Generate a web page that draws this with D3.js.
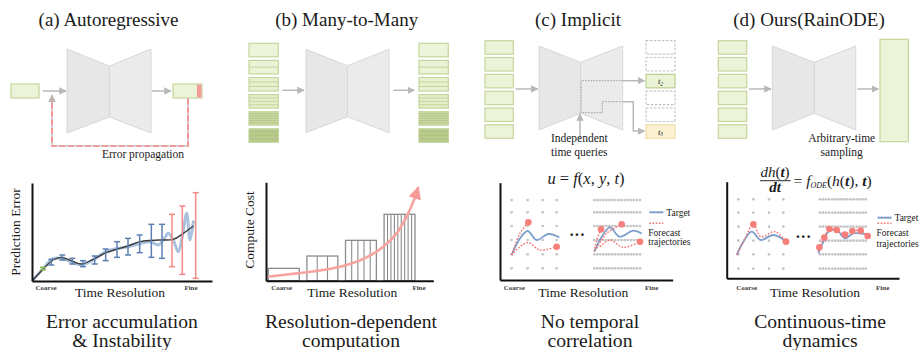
<!DOCTYPE html>
<html>
<head>
<meta charset="utf-8">
<script src="https://cdn.jsdelivr.net/npm/d3@7"></script>
<style>
  body { margin: 0; background: #fff; }
  svg { display: block; }
  text { font-family: "Liberation Serif", "DejaVu Serif", serif; fill: #1a1a1a; }
</style>
</head>
<body>
<svg id="fig" width="921" height="350"></svg>
<script>
// ---------- data ----------
const panelTitles = ['(a)  Autoregressive', '(b)  Many-to-Many', '(c)  Implicit', '(d)  Ours(RainODE)'];
const captions = [
  ['Error accumulation', '& Instability'],
  ['Resolution-dependent', 'computation'],
  ['No temporal', 'correlation'],
  ['Continuous-time', 'dynamics']
];

// (a) prediction error along the rollout
const errX = [33, 58, 91, 121, 153, 188, 221, 255, 288, 323, 358, 390, 420, 451, 491];
const errLo = [33, 48, 63, 51, 43, 51, 61, 71, 78, 85, 71, 68, 43, 20, 8];
const errHi = [41, 65, 78, 68, 61, 75, 96, 118, 128, 138, 170, 170, 200, 225, 265];
const errKind = ['init', 'ok', 'ok', 'ok', 'ok', 'ok', 'ok', 'ok', 'ok', 'ok', 'ok', 'ok', 'bad', 'bad', 'bad'];
const meanX = [3, 33, 63, 88, 118, 148, 183, 223, 253, 288, 324, 384, 424, 454, 484];
const meanY = [3, 35, 63, 71, 61, 51, 65, 85, 95, 105, 118, 123, 125, 143, 165];
const rolloutX = [3, 33, 63, 88, 118, 148, 183, 223, 253, 288, 324, 355, 379, 395, 409, 425, 439, 452, 464, 474, 484];
const rolloutY = [3, 37, 67, 68, 57, 48, 63, 89, 97, 103, 112, 118, 108, 125, 143, 120, 88, 140, 203, 123, 178];

// (b) compute cost per resolution level
const costLevels = ['L1', 'L2', 'L3', 'L4'];
const costValue = [37, 74, 121, 199];
const costSteps = [1, 3, 5, 9];
const costCurveX = [5, 92, 172, 242, 302, 352, 392, 422, 442, 457];
const costCurveY = [12, 22, 32, 47, 70, 102, 142, 192, 237, 280];
const stackSplits = [1, 2, 3, 4, 6, 10];

// (c) implicit queries
const coarseColsC = [35, 83, 128, 170];
const fineColsC = [283, 292, 301, 310, 319, 328, 337, 346, 356, 365, 374, 383, 392, 401, 410, 420];
const rowsC = [240, 203, 162, 120, 77, 35];
const targetC = [
  [[35, 75], [60, 125], [83, 147], [110, 120], [145, 138], [178, 128]],
  [[283, 85], [305, 130], [330, 158], [358, 130], [400, 148], [425, 140]]
];
const forecastC = [
  [[35, 75], [60, 140], [85, 173]],
  [[35, 75], [60, 100], [85, 112], [120, 90], [170, 100]],
  [[283, 85], [290, 120], [303, 152]],
  [[290, 95], [320, 140], [365, 167]],
  [[300, 100], [330, 120], [370, 98], [420, 115]]
];

// (d) continuous-time ODE
const coarseColsD = [35, 80, 127, 170];
const fineColsD = [280, 289, 298, 307, 317, 326, 335, 344, 353, 362, 371, 380, 390, 399, 408, 417];
const rowsD = [237, 197, 155, 113, 72, 29];
const targetD = [
  [[30, 70], [50, 110], [75, 140], [102, 115], [140, 130], [180, 110]],
  [[275, 75], [290, 110], [305, 140], [330, 145], [355, 120], [380, 135], [415, 133]]
];
const forecastD = [
  [[30, 70], [55, 120], [80, 162], [102, 125], [145, 140], [178, 110]],
  [[275, 80], [278, 93], [293, 122], [308, 148], [330, 145], [355, 131], [377, 142], [402, 143], [423, 127]]
];
const forecastDotsD = [[80, 162], [178, 110], [278, 93], [293, 122], [308, 148], [330, 145], [355, 131], [377, 142], [402, 143], [423, 127]];

// ---------- helpers ----------
const svg = d3.select('#fig');
const defs = svg.append('defs');
const GRAY = '#b8b8b8';
const RED = '#f48a86';
const GREEN_FILL = '#edf3d8';
const GREEN_LINE = '#c4d69c';

function addMarker(id, color) {
  defs.append('marker')
    .attr('id', id)
    .attr('viewBox', '0 0 10 10')
    .attr('refX', 9).attr('refY', 5)
    .attr('markerWidth', 5).attr('markerHeight', 5)
    .attr('orient', 'auto')
    .append('path')
    .attr('d', 'M0,0L10,5L0,10z')
    .attr('fill', color);
}
addMarker('headGray', GRAY);
addMarker('headRed', '#f69a96');

function arrow(pts, dash) {
  return svg.append('path')
    .attr('d', d3.line()(pts))
    .attr('fill', 'none')
    .attr('stroke', GRAY)
    .attr('stroke-width', 1.5)
    .attr('stroke-dasharray', dash || null)
    .attr('marker-end', 'url(#headGray)');
}

function hourglass(x0, xm, x1, y0, y1, ym0, ym1) {
  svg.append('path')
    .attr('d', `M${x0},${y0}L${xm},${ym0}L${xm},${ym1}L${x0},${y1}Z`)
    .attr('fill', '#e7e7e7').attr('stroke', '#d8d8d8');
  svg.append('path')
    .attr('d', `M${xm},${ym0}L${x1},${y0}L${x1},${y1}L${xm},${ym1}Z`)
    .attr('fill', '#ebebeb').attr('stroke', '#d8d8d8');
}

function box(x, y, w, h, fill, stroke, dash) {
  return svg.append('rect')
    .attr('x', x).attr('y', y).attr('width', w).attr('height', h)
    .attr('fill', fill).attr('stroke', stroke).attr('stroke-width', 1.2)
    .attr('stroke-dasharray', dash || null);
}

function label(x, y, str, size, opts) {
  opts = opts || {};
  const t = svg.append('text')
    .attr('x', x).attr('y', y)
    .attr('text-anchor', opts.anchor || 'middle')
    .attr('font-size', size)
    .attr('font-weight', opts.weight || null)
    .attr('font-style', opts.italic ? 'italic' : null)
    .text(str);
  if (opts.rotate) t.attr('transform', `rotate(-90,${x},${y})`);
  if (opts.fill) t.style('fill', opts.fill);
  return t;
}

function axes(x, y) {
  const g = svg.append('g');
  g.append('g').attr('transform', `translate(0,${y.range()[0]})`)
    .call(d3.axisBottom(x).ticks(0).tickSizeOuter(0));
  g.append('g').attr('transform', `translate(${x.range()[0]},0)`)
    .call(d3.axisLeft(y).ticks(0).tickSizeOuter(0));
  g.selectAll('.domain').attr('stroke', '#111').attr('stroke-width', 2);
}

function axisLabels(cx, coarseX, fineX) {
  label(coarseX, 290, 'Coarse', 7, { weight: 'bold', fill: '#444' });
  label(cx, 296.5, 'Time Resolution', 13.5);
  label(fineX, 290, 'Fine', 7, { weight: 'bold', fill: '#444' });
}

// ---------- titles & captions ----------
const titleX = [108.5, 346.7, 578, 809];
const captionX = [122, 351, 590, 820];
panelTitles.forEach((t, i) => label(titleX[i], 26, t, 19));
captions.forEach((c, i) => {
  label(captionX[i], 328, c[0], 19.6);
  label(captionX[i], 347, c[1], 19.6);
});

// ---------- (a) autoregressive ----------
hourglass(67, 109.5, 151, 49, 133, 66, 117);
box(11, 84, 28, 14, GREEN_FILL, GREEN_LINE);
box(173, 84, 29, 14, GREEN_FILL, GREEN_LINE);
svg.append('rect').attr('x', 197).attr('y', 84.6).attr('width', 4.4).attr('height', 12.8).attr('fill', '#f49d96');
arrow([[43, 91], [66, 91]]);
arrow([[152, 91], [171, 91]]);
const loop = [[188, 98.6], [188, 146], [52, 146], [52, 95]];
svg.append('path').attr('d', d3.line()(loop)).attr('fill', 'none')
  .attr('stroke', '#c9c9c9').attr('stroke-width', 1.6).attr('marker-end', 'url(#headGray)');
svg.append('path').attr('d', d3.line()(loop.slice(0, 3).concat([[52, 99]]))).attr('fill', 'none')
  .attr('stroke', RED).attr('stroke-width', 1.6).attr('stroke-dasharray', '6,2.5');
label(143, 158, 'Error propagation', 11.5);

const xA = d3.scaleLinear().domain([0, 540]).range([32, 212]);
const yA = d3.scaleLinear().domain([0, 294]).range([281, 183]);
const lineA = d3.line().x(d => xA(d[0])).y(d => yA(d[1])).curve(d3.curveCatmullRom);
svg.append('path').attr('d', lineA(d3.zip(rolloutX, rolloutY)))
  .attr('fill', 'none').attr('stroke', '#a9c1de').attr('stroke-width', 3).attr('stroke-linecap', 'round');
svg.append('path').attr('d', lineA(d3.zip(meanX, meanY)))
  .attr('fill', 'none').attr('stroke', '#3a3a3a').attr('stroke-width', 1.4);
const errColor = { init: '#8fb45a', ok: '#5d80b0', bad: '#f48a86' };
const bars = svg.append('g').selectAll('g').data(errX.map((x, i) => ({ x, lo: errLo[i], hi: errHi[i], k: errKind[i] })))
  .join('g').attr('stroke', d => errColor[d.k]).attr('stroke-width', 1.5);
bars.append('line').attr('x1', d => xA(d.x)).attr('x2', d => xA(d.x)).attr('y1', d => yA(d.lo)).attr('y2', d => yA(d.hi));
bars.append('line').attr('x1', d => xA(d.x) - 3).attr('x2', d => xA(d.x) + 3).attr('y1', d => yA(d.lo)).attr('y2', d => yA(d.lo));
bars.append('line').attr('x1', d => xA(d.x) - 3).attr('x2', d => xA(d.x) + 3).attr('y1', d => yA(d.hi)).attr('y2', d => yA(d.hi));
axes(xA, yA);
label(20, 232, 'Prediction Error', 13.5, { rotate: true });
axisLabels(120, 46, 191);

// ---------- (b) many-to-many ----------
hourglass(306, 347.5, 389, 49.3, 132.7, 65.7, 116.7);
const rowsB = d3.scaleBand().domain(d3.range(6)).range([43.3, 142.3]).paddingInner(0.21);
const stackFill = d3.scaleLinear().domain([0, 3, 4, 5]).range(['#eef4da', '#e6eecb', '#cbd9a7', '#c0cf96']);
[249, 419].forEach(x0 => {
  stackSplits.forEach((n, i) => {
    const y0 = rowsB(i), h = rowsB.bandwidth();
    box(x0, y0, 29.3, h, stackFill(i), GREEN_LINE);
    for (let k = 1; k < n; k++) {
      svg.append('line').attr('x1', x0).attr('x2', x0 + 29.3)
        .attr('y1', y0 + h * k / n).attr('y2', y0 + h * k / n)
        .attr('stroke', i >= 4 ? '#b3c585' : GREEN_LINE).attr('stroke-width', 1);
    }
  });
});
arrow([[282.3, 90.3], [304, 90.3]]);
arrow([[393.3, 90.3], [414.3, 90.3]]);

const xB = d3.scaleLinear().domain([0, 502]).range([266, 433.3]);
const yB = d3.scaleLinear().domain([0, 295]).range([280.7, 182.3]);
const band = d3.scaleBand().domain(costLevels).range([xB(7), xB(447)]).paddingInner(0.2);
costLevels.forEach((c, i) => {
  const x0 = band(c), w = band.bandwidth(), yt = yB(costValue[i]);
  svg.append('rect').attr('x', x0).attr('y', yt).attr('width', w).attr('height', yB(0) - yt)
    .attr('fill', 'none').attr('stroke', '#8c8c8c').attr('stroke-width', 1.3);
  for (let k = 1; k < costSteps[i]; k++) {
    svg.append('line').attr('x1', x0 + w * k / costSteps[i]).attr('x2', x0 + w * k / costSteps[i])
      .attr('y1', yt).attr('y2', yB(0)).attr('stroke', '#8c8c8c').attr('stroke-width', 1.1);
  }
});
svg.append('path')
  .attr('d', d3.line().x(d => xB(d[0])).y(d => yB(d[1])).curve(d3.curveCatmullRom)(d3.zip(costCurveX, costCurveY)))
  .attr('fill', 'none').attr('stroke', '#f7a3a0').attr('stroke-width', 2.6).attr('marker-end', 'url(#headRed)');
axes(xB, yB);
label(254.3, 230, 'Compute Cost', 13.5, { rotate: true });
axisLabels(352.3, 281.7, 419);

// ---------- (c) implicit ----------
hourglass(539, 580.7, 622.7, 46, 130, 62.3, 113.3);
const rowsIO = d3.scaleBand().domain(d3.range(6)).range([40.7, 138.3]).paddingInner(0.197);
d3.range(6).forEach(i => box(485, rowsIO(i), 28.3, rowsIO.bandwidth(), GREEN_FILL, GREEN_LINE));
d3.range(6).forEach(i => {
  if (i === 2) box(646, rowsIO(i), 29, rowsIO.bandwidth(), '#ecf3d6', '#b9cf8e');
  else if (i === 5) box(646, rowsIO(i), 29, rowsIO.bandwidth(), '#fcf2d2', '#f1dfa6');
  else box(646, rowsIO(i), 29, rowsIO.bandwidth(), 'none', '#c4c4c4', '2.5,1.5');
});
[[2, '2'], [5, '3']].forEach(([i, s]) => {
  const t = svg.append('text').attr('x', 660.5).attr('y', rowsIO(i) + 9.8).attr('text-anchor', 'middle')
    .attr('font-size', 8.5).attr('font-style', 'italic').text('t');
  t.append('tspan').attr('font-size', 5.5).attr('dy', 1.5).text(s);
});
arrow([[515.7, 89], [537.7, 89]]);
svg.append('path').attr('d', d3.line()([[623, 80.7], [581, 80.7], [581, 112.7], [602.3, 112.7], [602.3, 101.7], [623, 101.7]]))
  .attr('fill', 'none').attr('stroke', '#b0b0b0').attr('stroke-width', 1.3).attr('stroke-dasharray', '1.6,1.2');
arrow([[623, 80.7], [644.5, 80.7]]);
arrow([[623, 101.7], [633.3, 101.7], [633.3, 131], [644.5, 131]]);
arrow([[580, 140], [580, 114]]);
label(579.3, 142, 'Independent', 11.5);
label(579.3, 155.8, 'time queries', 11.5);

function dotChart(x, y, colsA, colsB, rows) {
  const pts = [];
  colsA.concat(colsB).forEach(cx => rows.forEach(r => pts.push([cx, r])));
  svg.append('g').selectAll('circle').data(pts).join('circle')
    .attr('cx', d => x(d[0])).attr('cy', d => y(d[1])).attr('r', 1.35).attr('fill', '#c4c4c4');
}
function curves(x, y, series, color, width, dash) {
  const ln = d3.line().x(d => x(d[0])).y(d => y(d[1])).curve(d3.curveCatmullRom);
  svg.append('g').selectAll('path').data(series).join('path')
    .attr('d', ln).attr('fill', 'none').attr('stroke', color).attr('stroke-width', width)
    .attr('stroke-dasharray', dash || null);
}
function redDots(x, y, pts) {
  svg.append('g').selectAll('circle').data(pts).join('circle')
    .attr('cx', d => x(d[0])).attr('cy', d => y(d[1])).attr('r', 3.3).attr('fill', '#f77f7b');
}
function legend(x, yLine, yRed, yT, yF, yTr) {
  svg.append('line').attr('x1', x).attr('x2', x + 14).attr('y1', yLine).attr('y2', yLine)
    .attr('stroke', '#7e9fcb').attr('stroke-width', 2);
  svg.append('line').attr('x1', x).attr('x2', x + 14).attr('y1', yRed).attr('y2', yRed)
    .attr('stroke', '#f27470').attr('stroke-width', 1.6).attr('stroke-dasharray', '1.6,1.6');
  label(x + 17, yT, 'Target', 9.5, { anchor: 'start' });
  label(x - 1, yF, 'Forecast', 9.5, { anchor: 'start' });
  label(x - 1, yTr, 'trajectories', 9.5, { anchor: 'start' });
}

const xC = d3.scaleLinear().domain([0, 518]).range([500, 672.7]);
const yC = d3.scaleLinear().domain([0, 292]).range([280, 182.7]);
dotChart(xC, yC, coarseColsC, fineColsC, rowsC);
curves(xC, yC, targetC, '#7e9fcb', 1.8);
curves(xC, yC, forecastC, '#f27470', 1.5, '1.6,1.6');
redDots(xC, yC, forecastC.map(s => s[s.length - 1]));
label(577, 240, '···', 16, { weight: 'bold' });
axes(xC, yC);
legend(649.3, 212.3, 223.3, 216, 236, 245);
axisLabels(583.3, 514.3, 651.7);
const eqC = svg.append('text').attr('x', 586).attr('y', 184).attr('text-anchor', 'middle').attr('font-size', 16.5);
eqC.append('tspan').attr('font-style', 'italic').text('u');
eqC.append('tspan').text(' = ');
eqC.append('tspan').attr('font-style', 'italic').text('f');
eqC.append('tspan').text('(');
eqC.append('tspan').attr('font-style', 'italic').text('x');
eqC.append('tspan').text(', ');
eqC.append('tspan').attr('font-style', 'italic').text('y');
eqC.append('tspan').text(', ');
eqC.append('tspan').attr('font-style', 'italic').text('t');
eqC.append('tspan').text(')');

// ---------- (d) ours ----------
hourglass(772.3, 814.3, 855.7, 46, 130, 62.3, 113.3);
d3.range(6).forEach(i => box(718.3, rowsIO(i), 28.4, rowsIO.bandwidth(), GREEN_FILL, GREEN_LINE));
box(880, 39.3, 28.3, 102.4, GREEN_FILL, GREEN_LINE);
arrow([[749, 89], [771, 89]]);
arrow([[857.3, 89], [878.3, 89]]);
label(841.7, 142, 'Arbitrary-time', 11.5);
label(841.7, 155.8, 'sampling', 11.5);

const xD = d3.scaleLinear().domain([0, 517]).range([726.7, 899]);
const yD = d3.scaleLinear().domain([0, 290]).range([278.3, 181.7]);
dotChart(xD, yD, coarseColsD, fineColsD, rowsD);
curves(xD, yD, targetD, '#7e9fcb', 1.8);
curves(xD, yD, forecastD, '#f27470', 1.5, '1.6,1.6');
redDots(xD, yD, forecastDotsD);
label(803.3, 241.5, '···', 16, { weight: 'bold' });
axes(xD, yD);
legend(877.5, 217.7, 223.3, 221, 236, 247);
axisLabels(815, 746.7, 882.7);

// equation dh(t)/dt = f_ODE(h(t), t)
const num = svg.append('text').attr('x', 775).attr('y', 176.5).attr('text-anchor', 'middle').attr('font-size', 15);
num.append('tspan').attr('font-style', 'italic').text('dh');
num.append('tspan').text('(');
num.append('tspan').attr('font-weight', 'bold').attr('font-style', 'italic').text('t');
num.append('tspan').text(')');
svg.append('line').attr('x1', 760).attr('x2', 790.7).attr('y1', 180.7).attr('y2', 180.7).attr('stroke', '#111').attr('stroke-width', 0.9);
label(775, 191.5, 'dt', 15, { weight: 'bold', italic: true });
const rhs = svg.append('text').attr('x', 793.5).attr('y', 185.5).attr('font-size', 15.5);
rhs.append('tspan').text('=  ');
rhs.append('tspan').attr('font-style', 'italic').text('f');
rhs.append('tspan').attr('font-style', 'italic').attr('font-size', 8).attr('dy', 2).text('ODE');
rhs.append('tspan').attr('dy', -2).text('(');
rhs.append('tspan').attr('font-style', 'italic').text('h');
rhs.append('tspan').text('(');
rhs.append('tspan').attr('font-weight', 'bold').attr('font-style', 'italic').text('t');
rhs.append('tspan').text('), ');
rhs.append('tspan').attr('font-weight', 'bold').attr('font-style', 'italic').text('t');
rhs.append('tspan').text(')');
</script>
</body>
</html>
